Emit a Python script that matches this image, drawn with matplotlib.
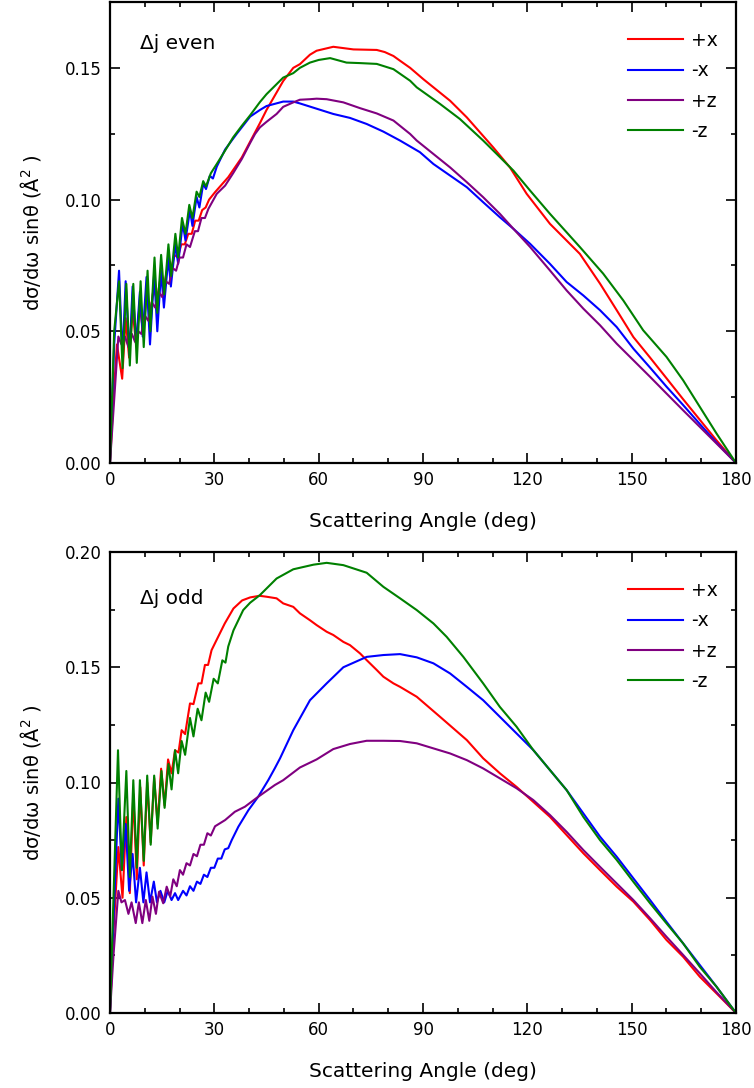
import matplotlib
matplotlib.use("Agg")
import matplotlib.pyplot as plt
from matplotlib.ticker import MultipleLocator, FormatStrFormatter

# ---------------- data (angle in deg, dsigma/domega * sin(theta) in A^2) ----------------
even_px = [(0, 0), (1, 0.025), (2, 0.045), (3.5, 0.032), (4.5, 0.055), (5.5, 0.040), (6.5, 0.058), (7.5, 0.045),
           (8.5, 0.060), (9.5, 0.050), (10.5, 0.063), (11.5, 0.056), (12.5, 0.066), (13.5, 0.062), (14.5, 0.070),
           (15.5, 0.067), (16.5, 0.074), (17.5, 0.073), (18.5, 0.079), (19.5, 0.078), (20.5, 0.083), (21.5, 0.083),
           (22.5, 0.087), (23.5, 0.087), (24.5, 0.092), (25.5, 0.092), (26.5, 0.096), (27.5, 0.097), (28.5, 0.100),
           (30.2, 0.1028), (34, 0.1085), (37.9, 0.116), (40.3, 0.122), (41.7, 0.1255), (43.1, 0.129), (45, 0.134),
           (49.8, 0.145), (52.7, 0.150), (54.6, 0.1514), (57.5, 0.155), (59.4, 0.1565), (64.2, 0.158), (70, 0.157),
           (76.7, 0.1568), (79, 0.156), (81.5, 0.1545), (83.4, 0.1527), (86.3, 0.150), (90.1, 0.1457),
           (97.8, 0.1375), (102.6, 0.1312), (110.2, 0.1198), (115, 0.1122), (119.8, 0.1022), (126.5, 0.0908),
           (135.1, 0.0794), (140.9, 0.0681), (145.7, 0.058), (150.5, 0.0478), (155.3, 0.040), (160, 0.0322),
           (164.8, 0.0242), (169.6, 0.0164), (174.4, 0.0086), (180, 0)]

even_mx = [(0, 0), (1.2, 0.045), (2.6, 0.073), (3.6, 0.040), (4.5, 0.069), (5.6, 0.041), (6.5, 0.067), (7.5, 0.045),
           (8.6, 0.065), (9.4, 0.048), (10.5, 0.0706), (11.5, 0.045), (12.7, 0.072), (13.6, 0.050), (14.7, 0.073),
           (15.5, 0.059), (16.8, 0.078), (17.5, 0.067), (18.8, 0.083), (19.6, 0.0756), (20.9, 0.091), (21.7, 0.0845),
           (23.0, 0.096), (23.7, 0.090), (24.9, 0.101), (25.7, 0.097), (26.8, 0.106), (27.6, 0.104), (28.7, 0.109),
           (29.6, 0.108), (30.7, 0.1125), (33.1, 0.1190), (36.4, 0.1249), (40.3, 0.1315), (43.1, 0.134),
           (45, 0.1355), (49.8, 0.1372), (52.7, 0.1372), (54.6, 0.1365), (59.4, 0.1345), (64.2, 0.1325),
           (69, 0.131), (73.8, 0.1287), (78.6, 0.1258), (83.4, 0.1224), (89.1, 0.118), (93, 0.1135),
           (97.8, 0.1091), (102.6, 0.1047), (107.3, 0.099), (112.1, 0.0933), (116, 0.0889), (120.8, 0.0832),
           (126.5, 0.0756), (131.3, 0.0687), (136.1, 0.0636), (140.9, 0.058), (145.7, 0.0516), (150.5, 0.0434),
           (155.3, 0.0362), (160, 0.029), (164.8, 0.022), (169.6, 0.0148), (174.4, 0.0077), (180, 0)]

even_pz = [(0, 0), (1, 0.02), (2.4, 0.048), (3.3, 0.045), (4.3, 0.048), (5.3, 0.044), (6.3, 0.049), (7.2, 0.046),
           (8.1, 0.050), (9.0, 0.049), (10.0, 0.056), (11.0, 0.054), (12.0, 0.061), (13.0, 0.059), (14.0, 0.065),
           (15.0, 0.063), (16.0, 0.069), (17.0, 0.068), (18.0, 0.074), (19.0, 0.073), (20.0, 0.078), (21.0, 0.078),
           (22.0, 0.083), (23.0, 0.082), (24.4, 0.088), (25.3, 0.088), (26.3, 0.093), (27.3, 0.093), (28.3, 0.0965),
           (30.7, 0.1022), (33.1, 0.1053), (35.4, 0.110), (37.9, 0.1154), (40.3, 0.1215), (41.7, 0.1249),
           (43.1, 0.1274), (45, 0.1295), (47.9, 0.1325), (49.8, 0.1352), (52.7, 0.1369), (54.6, 0.1379),
           (57.5, 0.1381), (59.4, 0.1383), (62.3, 0.1381), (67.1, 0.1369), (71.9, 0.1347), (76.7, 0.1327),
           (81.5, 0.130), (86.3, 0.1249), (88.2, 0.1224), (93, 0.1173), (97.8, 0.1122), (102.6, 0.1066),
           (107.3, 0.1009), (112.1, 0.0946), (116, 0.0889), (120.8, 0.082), (126.5, 0.0731), (131.3, 0.0655),
           (136.1, 0.0586), (140.9, 0.0523), (145.7, 0.0453), (150.5, 0.039), (155.3, 0.0327), (160, 0.0264),
           (164.8, 0.020), (169.6, 0.0137), (174.4, 0.0074), (180, 0)]

even_mz = [(0, 0), (1.2, 0.050), (2.6, 0.069), (3.6, 0.036), (4.7, 0.068), (5.7, 0.037), (6.7, 0.068), (7.7, 0.038),
           (8.8, 0.069), (9.7, 0.044), (10.8, 0.073), (11.6, 0.050), (12.8, 0.078), (13.6, 0.057), (14.7, 0.079),
           (15.6, 0.064), (16.8, 0.083), (17.6, 0.071), (18.8, 0.087), (19.6, 0.078), (20.7, 0.093), (21.7, 0.087),
           (22.8, 0.098), (23.7, 0.093), (24.9, 0.103), (25.7, 0.101), (26.8, 0.107), (27.6, 0.105), (29, 0.110),
           (30.7, 0.1135), (33.1, 0.1186), (35.4, 0.1236), (37.9, 0.128), (40.3, 0.132), (43.1, 0.137),
           (45, 0.140), (47.9, 0.1438), (49.8, 0.1463), (52.7, 0.148), (54.6, 0.150), (57.5, 0.152), (60, 0.153),
           (63.3, 0.1537), (68, 0.152), (72, 0.1518), (76.7, 0.1515), (81.5, 0.1495), (86.3, 0.1451),
           (88.2, 0.1426), (94.9, 0.1363), (100.6, 0.1306), (107.3, 0.1224), (111.2, 0.1173), (116, 0.111),
           (120.8, 0.1034), (126.5, 0.0946), (135.1, 0.082), (141.8, 0.0719), (147.6, 0.0617), (153.3, 0.0504),
           (160, 0.0403), (164.8, 0.0314), (169.6, 0.0213), (174.4, 0.0112), (180, 0)]

odd_px = [(0, 0), (1, 0.035), (2.4, 0.072), (3.6, 0.050), (4.7, 0.085), (5.7, 0.052), (6.7, 0.095), (7.7, 0.058),
          (8.7, 0.098), (9.7, 0.064), (10.7, 0.100), (11.7, 0.074), (12.7, 0.102), (13.7, 0.082), (14.7, 0.106),
          (15.7, 0.090), (16.7, 0.110), (17.7, 0.104), (18.7, 0.114), (19.7, 0.113), (20.6, 0.1227), (21.6, 0.121),
          (23, 0.1343), (24, 0.134), (25.4, 0.143), (26.3, 0.143), (27.3, 0.151), (28.2, 0.151), (29.2, 0.1574),
          (30.7, 0.162), (33, 0.169), (35.5, 0.1755), (38, 0.179), (40.3, 0.1803), (43, 0.181), (45, 0.1806),
          (47.9, 0.1799), (49.8, 0.1777), (52.7, 0.1762), (54.6, 0.1734), (57.5, 0.1704), (59.4, 0.1683),
          (62.3, 0.1654), (64.2, 0.164), (67.1, 0.161), (69, 0.1596), (71.9, 0.156), (73.8, 0.1531),
          (76.7, 0.1488), (78.6, 0.1459), (81.5, 0.143), (83.4, 0.1415), (88.2, 0.1372), (94.9, 0.1285),
          (102.6, 0.1184), (107.3, 0.1105), (112.1, 0.104), (116.9, 0.0981), (121.7, 0.0916), (126.5, 0.0851),
          (131.3, 0.0772), (136.1, 0.0693), (140.9, 0.062), (145.7, 0.0548), (150.5, 0.0483), (155.3, 0.0403),
          (160, 0.0317), (164.8, 0.0244), (169.6, 0.0157), (174.4, 0.0085), (180, 0)]

odd_mx = [(0, 0), (1, 0.04), (2.4, 0.093), (3.4, 0.062), (4.5, 0.082), (5.5, 0.053), (6.5, 0.069), (7.5, 0.048),
          (8.6, 0.063), (9.6, 0.048), (10.5, 0.061), (11.5, 0.048), (12.6, 0.057), (13.5, 0.048), (14.5, 0.053),
          (15.6, 0.048), (16.6, 0.053), (17.7, 0.049), (18.7, 0.052), (19.6, 0.049), (21, 0.053), (22, 0.051),
          (23, 0.055), (24, 0.053), (25, 0.057), (26, 0.056), (27, 0.060), (28, 0.059), (29, 0.063), (30, 0.063),
          (31, 0.067), (32, 0.067), (33, 0.071), (34, 0.0715), (35, 0.075), (36.9, 0.0808), (39.8, 0.088),
          (42.6, 0.0938), (45.5, 0.101), (47.4, 0.1062), (48.9, 0.1105), (52.7, 0.1227), (57.5, 0.1357),
          (62.3, 0.143), (67.1, 0.150), (73.8, 0.1545), (78.6, 0.1553), (83.4, 0.1557), (88.2, 0.1543),
          (93, 0.1517), (97.8, 0.1473), (102.6, 0.1415), (107.3, 0.1357), (112.1, 0.1285), (116.9, 0.1213),
          (121.7, 0.1141), (126.5, 0.1054), (131.3, 0.0967), (136.1, 0.0866), (140.9, 0.0765), (145.7, 0.0678),
          (150.5, 0.0584), (155.3, 0.049), (160, 0.0396), (164.8, 0.0302), (169.6, 0.0208), (174.4, 0.0114),
          (180, 0)]

odd_pz = [(0, 0), (1, 0.025), (2.4, 0.053), (3.3, 0.048), (4.3, 0.049), (5.3, 0.043), (6.2, 0.048), (7.4, 0.039),
          (8.3, 0.048), (9.3, 0.039), (10.3, 0.049), (11.3, 0.040), (12.2, 0.0505), (13.2, 0.043), (14.1, 0.0526),
          (15.3, 0.0476), (16.3, 0.0548), (17.3, 0.0505), (18.2, 0.058), (19.2, 0.055), (20.1, 0.062), (21, 0.060),
          (22, 0.065), (23, 0.064), (24, 0.069), (25, 0.068), (26, 0.073), (27, 0.073), (28, 0.078), (29, 0.077),
          (30.2, 0.081), (33.1, 0.0837), (35.9, 0.0873), (38.8, 0.0895), (42.6, 0.0938), (47.4, 0.0989),
          (49.8, 0.101), (54.6, 0.1065), (59.4, 0.110), (64.2, 0.1145), (69, 0.1167), (73.8, 0.1181),
          (78.6, 0.1181), (83.4, 0.118), (88.2, 0.117), (93, 0.1148), (97.8, 0.1126), (102.6, 0.1097),
          (107.3, 0.1061), (112.1, 0.1018), (116.9, 0.0975), (121.7, 0.0924), (126.5, 0.0859), (131.3, 0.0786),
          (136.1, 0.0707), (140.9, 0.0634), (145.7, 0.0562), (150.5, 0.049), (155.3, 0.0411), (160, 0.0331),
          (164.8, 0.0252), (169.6, 0.0172), (174.4, 0.009), (180, 0)]

odd_mz = [(0, 0), (1, 0.05), (2.3, 0.114), (3.4, 0.062), (4.7, 0.105), (5.7, 0.059), (6.7, 0.101), (7.7, 0.063),
          (8.6, 0.101), (9.7, 0.066), (10.7, 0.103), (11.7, 0.073), (12.7, 0.103), (13.7, 0.080), (14.8, 0.105),
          (15.7, 0.089), (16.8, 0.108), (17.7, 0.097), (18.7, 0.114), (19.6, 0.104), (20.6, 0.118), (21.6, 0.112),
          (23, 0.128), (24, 0.120), (25.2, 0.132), (26.3, 0.127), (27.5, 0.139), (28.5, 0.135), (29.8, 0.145),
          (31, 0.143), (32.3, 0.153), (33.2, 0.152), (34, 0.159), (35.5, 0.166), (38.3, 0.1748), (40.3, 0.178),
          (43.1, 0.1813), (47.9, 0.1885), (52.7, 0.1925), (58.5, 0.1945), (62.3, 0.1953), (67.1, 0.1943),
          (73.8, 0.191), (78.6, 0.1849), (83.4, 0.1799), (88.2, 0.1748), (93, 0.169), (96.8, 0.1632),
          (101.6, 0.1545), (107.3, 0.143), (112.1, 0.1328), (116.9, 0.1242), (121.7, 0.1141), (126.5, 0.1054),
          (131.3, 0.0967), (136.1, 0.0851), (140.9, 0.075), (145.7, 0.0664), (150.5, 0.0569), (155.3, 0.0476),
          (160, 0.0389), (164.8, 0.0302), (169.6, 0.020), (174.4, 0.0114), (180, 0)]

series_labels = ["+x", "-x", "+z", "-z"]
series_colors = ["#ff0000", "#0000ff", "#800080", "#008000"]
panel_titles = ["\u0394j even", "\u0394j odd"]
x_ticks = [0, 30, 60, 90, 120, 150, 180]

# ---------------- style ----------------
plt.rcParams['font.family'] = ['DejaVu Sans']

fig = plt.figure(figsize=(7.54, 10.88), dpi=100)
ax1 = fig.add_axes([110 / 754, 1 - 463 / 1088, 626 / 754, 461 / 1088])
ax2 = fig.add_axes([110 / 754, 1 - 1013 / 1088, 626 / 754, 461 / 1088])

panels = [(ax1, [even_px, even_mx, even_pz, even_mz], 0.175, panel_titles[0], 0.91),
          (ax2, [odd_px, odd_mx, odd_pz, odd_mz], 0.20, panel_titles[1], 0.90)]

for ax, curves, ytop, title, ty in panels:
    for data, lab, col in zip(curves, series_labels, series_colors):
        xs = [p[0] for p in data]
        ys = [p[1] for p in data]
        ax.plot(xs, ys, color=col, lw=1.5, label=lab)
    ax.set_xlim(0, 180)
    ax.set_ylim(0, ytop)
    ax.set_xticks(x_ticks)
    ax.xaxis.set_minor_locator(MultipleLocator(10))
    ax.yaxis.set_major_locator(MultipleLocator(0.05))
    ax.yaxis.set_minor_locator(MultipleLocator(0.025))
    ax.yaxis.set_major_formatter(FormatStrFormatter('%.2f'))
    ax.tick_params(which='both', direction='in', top=True, right=True, labelsize=12, width=1.2)
    ax.tick_params(which='major', length=7, pad=6)
    ax.tick_params(which='minor', length=3.5)
    for sp in ax.spines.values():
        sp.set_linewidth(1.6)
    ax.set_xlabel("Scattering Angle (deg)", fontsize=14.5, labelpad=16)
    ax.set_ylabel("d\u03c3/d\u03c9 sin\u03b8 (\u00c5$^2$ )", fontsize=14, labelpad=16)
    ax.text(0.048, ty, title, transform=ax.transAxes, fontsize=14.5, va='center', ha='left')
    ax.legend(loc='upper left', bbox_to_anchor=(0.8275, 0.937), frameon=False, fontsize=13.5,
              handlelength=2.93, handletextpad=0.43, labelspacing=0.60, borderaxespad=0, borderpad=0)

fig.savefig("out.png", dpi=100)
